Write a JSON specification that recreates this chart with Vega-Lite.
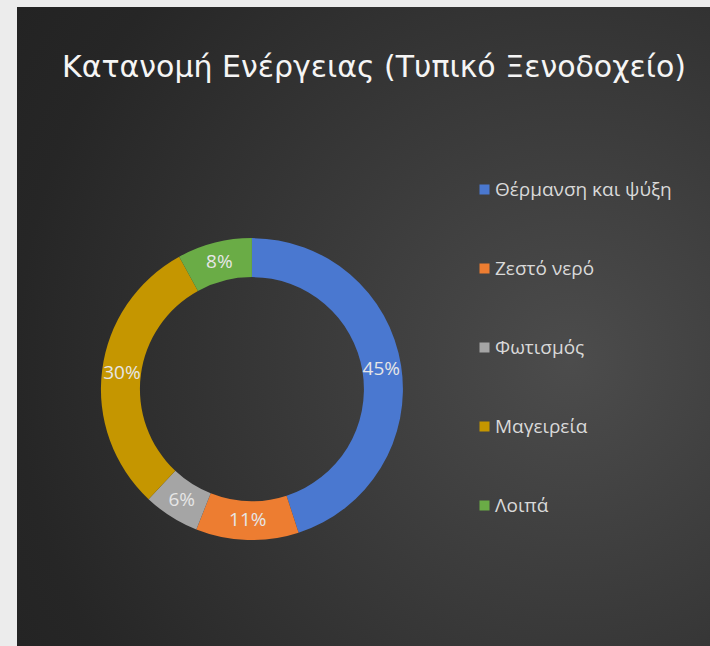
{
  "$schema": "https://vega.github.io/schema/vega-lite/v6.json",
  "width": 693,
  "height": 639,
  "autosize": {"type": "none"},
  "padding": {"left": 17, "top": 7, "right": 0, "bottom": 0},
  "background": "#ececec",
  "view": {
    "fill": {
      "gradient": "radial",
      "x1": 0.8, "y1": 0.55, "r1": 0,
      "x2": 0.8, "y2": 0.55, "r2": 1.0,
      "stops": [
        {"offset": 0, "color": "#4c4c4c"},
        {"offset": 0.8, "color": "#262626"},
        {"offset": 1, "color": "#222222"}
      ]
    },
    "stroke": null
  },
  "title": {
    "text": "Κατανομή Ενέργειας (Τυπικό Ξενοδοχείο)",
    "anchor": "start",
    "frame": "group",
    "offset": -76,
    "dx": 45,
    "font": "DejaVu Sans",
    "fontSize": 30,
    "fontWeight": "normal",
    "color": "#f5f5f5"
  },
  "data": {
    "values": [
      {"category": "Θέρμανση και ψύξη", "share": 0.45, "rank": 1},
      {"category": "Ζεστό νερό", "share": 0.11, "rank": 2},
      {"category": "Φωτισμός", "share": 0.06, "rank": 3},
      {"category": "Μαγειρεία", "share": 0.30, "rank": 4},
      {"category": "Λοιπά", "share": 0.08, "rank": 5}
    ]
  },
  "encoding": {
    "theta": {"field": "share", "type": "quantitative", "stack": true},
    "order": {"field": "rank", "type": "quantitative", "sort": "ascending"},
    "x": {"datum": "c", "type": "nominal", "scale": {"type": "point", "align": 0.339}, "axis": null},
    "y": {"datum": "c", "type": "nominal", "scale": {"type": "point", "align": 0.598}, "axis": null}
  },
  "layer": [
    {
      "mark": {"type": "arc", "outerRadius": 151, "innerRadius": 112},
      "encoding": {
        "color": {
          "field": "category",
          "type": "nominal",
          "scale": {
            "domain": ["Θέρμανση και ψύξη", "Ζεστό νερό", "Φωτισμός", "Μαγειρεία", "Λοιπά"],
            "range": ["#4a78d0", "#ed7d31", "#a5a5a5", "#c59600", "#6aac46"]
          },
          "legend": {
            "orient": "none",
            "legendX": 458,
            "legendY": 173,
            "title": null,
            "padding": 0,
            "symbolType": "square",
            "symbolSize": 100,
            "symbolStrokeWidth": 0,
            "symbolOpacity": 1,
            "labelFont": "Open Sans",
            "labelFontSize": 19,
            "labelColor": "#d9d9d9",
            "labelOffset": 1,
            "labelLimit": 300,
            "rowPadding": 59
          }
        }
      }
    },
    {
      "mark": {"type": "text", "radius": 131, "font": "Open Sans", "fontSize": 19, "fill": "#e6e6e6"},
      "encoding": {
        "detail": {"field": "category", "type": "nominal"},
        "text": {"field": "share", "type": "quantitative", "format": ".0%"}
      }
    }
  ]
}
